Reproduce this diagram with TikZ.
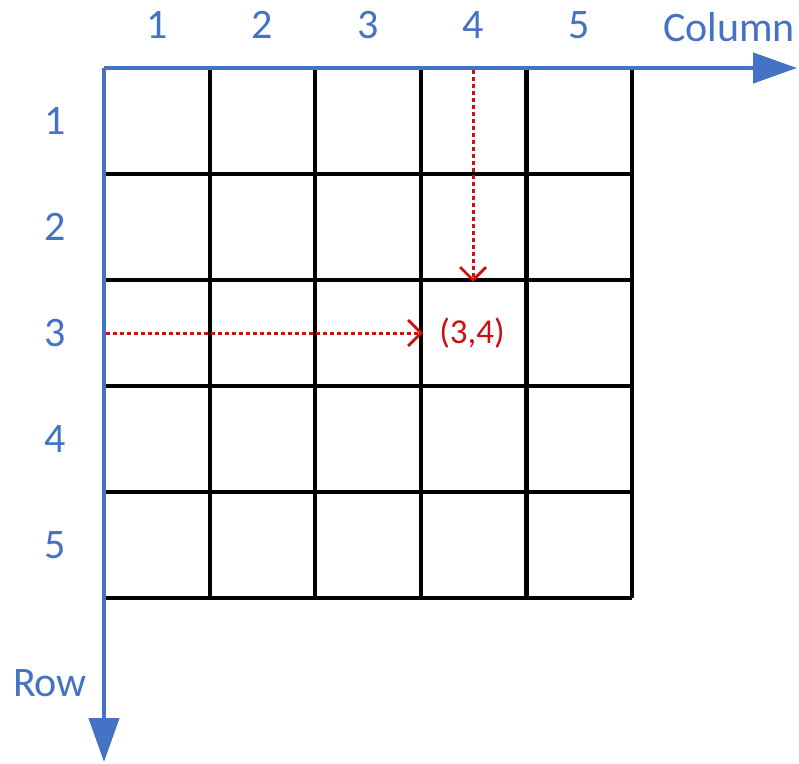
\documentclass[tikz,border=0pt]{standalone}
\usepackage{fontspec}
\setmainfont{Carlito}
\usetikzlibrary{arrows.meta}
\definecolor{axisblue}{RGB}{68,114,196}
\definecolor{markred}{RGB}{204,16,16}
\tikzset{
  axis/.style={draw=axisblue, line width=4.5pt, -{Triangle[length=44pt,width=30pt]}},
  gridline/.style={draw=black, line width=4.2pt},
  pointer/.style={draw=markred, line width=3pt, dash pattern=on 4pt off 3pt,
    -{Straight Barb[length=13pt,width=26pt,line width=2.8pt]}},
  axislabel/.style={text=axisblue, font=\fontsize{42}{50}\selectfont, inner sep=0pt},
  cellnote/.style={text=markred, font=\fontsize{35}{42}\selectfont, inner sep=0pt}
}

\begin{document}
\begin{tikzpicture}[x=1pt,y=-1pt]
\useasboundingbox (0,0) rectangle (799,763);
\coordinate (origin) at (104,68);
\coordinate (colend) at (797,68);
\coordinate (rowend) at (104,762);

% grid of cells
\foreach \i in {0,...,5} {
  \draw[gridline] (104+105.6*\i,68) -- (104+105.6*\i,598);
  \draw[gridline] (104,68+106*\i) -- (632,68+106*\i);
}

% axes
\draw[axis] (origin) -- (colend);
\draw[axis] (origin) -- (rowend);

% labels
\foreach \i in {1,...,5} {
  \node[axislabel] (col\i) at (104+105.6*\i-52.8,25) {\i};
  \node[axislabel] (row\i) at (55,68+106*\i-53) {\i};
}
\node[axislabel] (coltitle) at (729,27) {Column};
\node[axislabel] (rowtitle) at (50,683) {Row};

% marked cell
\node[cellnote] (cell) at (472,333) {(3,4)};
\coordinate (coltop) at (473,70);
\coordinate (coltip) at (473,282);
\coordinate (rowleft) at (106,333);
\coordinate (rowtip) at (423,333);
\draw[pointer] (coltop) -- (coltip);
\draw[pointer] (rowleft) -- (rowtip);
\end{tikzpicture}
\end{document}
